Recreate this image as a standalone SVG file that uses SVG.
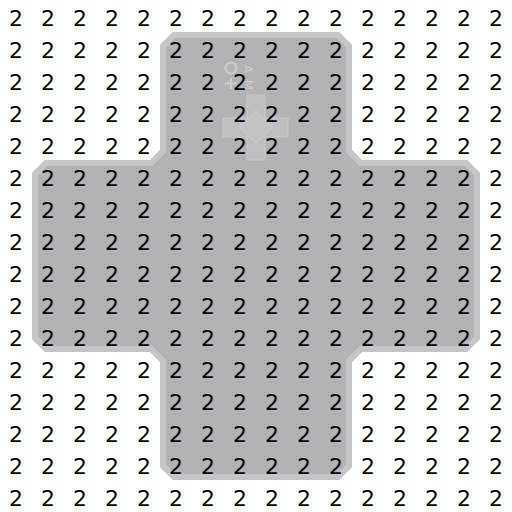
<svg xmlns="http://www.w3.org/2000/svg" width="512" height="512" viewBox="0 0 512 512">
<style>
.g{font-family:"DejaVu Sans",sans-serif;font-size:22px;fill:#000;text-anchor:middle}
.faint{fill:none;stroke:#cccccc;stroke-width:2}
.ft{font-family:"DejaVu Sans",sans-serif;font-size:12px;fill:#cccccc;text-anchor:middle}
</style>
<rect width="512" height="512" fill="#ffffff"/>
<g id="cross">
<path d="M174,35 H338 L349,46 V151 L361,163 H466 L477,174 V338 L466,349 H361 L349,361 V466 L338,477 H174 L163,466 V361 L151,349 H46 L35,338 V174 L46,163 H151 L163,151 V46 Z" fill="#b3b3b3" stroke="#c6c6c6" stroke-width="6" stroke-linejoin="miter"/>
</g>
<g id="icon">
<rect x="223" y="118" width="65" height="19" fill="#bfbfbf" stroke="#c8c8c8" stroke-width="1"/>
<rect x="247" y="95" width="18" height="65" fill="#bfbfbf" stroke="#c8c8c8" stroke-width="1"/>
<path d="M256,111 L272,127 L256,143 L240,127 Z" fill="#c3c3c3" stroke="#c9c9c9" stroke-width="1.5" stroke-linejoin="round"/>
<circle cx="231" cy="68" r="5.5" class="faint"/>
<path d="M231,78 V89 M225,83.5 H237" class="faint"/>
<text class="ft" transform="translate(244,69) rotate(90)">A</text>
<text class="ft" transform="translate(244,85) rotate(90)">M</text>
</g>
<g id="grid">
<text class="g" x="16 48 80 112 144 176 208 240 272 304 336 368 400 432 464 496" y="26">2222222222222222</text>
<text class="g" x="16 48 80 112 144 176 208 240 272 304 336 368 400 432 464 496" y="58">2222222222222222</text>
<text class="g" x="16 48 80 112 144 176 208 240 272 304 336 368 400 432 464 496" y="90">2222222222222222</text>
<text class="g" x="16 48 80 112 144 176 208 240 272 304 336 368 400 432 464 496" y="122">2222222222222222</text>
<text class="g" x="16 48 80 112 144 176 208 240 272 304 336 368 400 432 464 496" y="154">2222222222222222</text>
<text class="g" x="16 48 80 112 144 176 208 240 272 304 336 368 400 432 464 496" y="186">2222222222222222</text>
<text class="g" x="16 48 80 112 144 176 208 240 272 304 336 368 400 432 464 496" y="218">2222222222222222</text>
<text class="g" x="16 48 80 112 144 176 208 240 272 304 336 368 400 432 464 496" y="250">2222222222222222</text>
<text class="g" x="16 48 80 112 144 176 208 240 272 304 336 368 400 432 464 496" y="282">2222222222222222</text>
<text class="g" x="16 48 80 112 144 176 208 240 272 304 336 368 400 432 464 496" y="314">2222222222222222</text>
<text class="g" x="16 48 80 112 144 176 208 240 272 304 336 368 400 432 464 496" y="346">2222222222222222</text>
<text class="g" x="16 48 80 112 144 176 208 240 272 304 336 368 400 432 464 496" y="378">2222222222222222</text>
<text class="g" x="16 48 80 112 144 176 208 240 272 304 336 368 400 432 464 496" y="410">2222222222222222</text>
<text class="g" x="16 48 80 112 144 176 208 240 272 304 336 368 400 432 464 496" y="442">2222222222222222</text>
<text class="g" x="16 48 80 112 144 176 208 240 272 304 336 368 400 432 464 496" y="474">2222222222222222</text>
<text class="g" x="16 48 80 112 144 176 208 240 272 304 336 368 400 432 464 496" y="506">2222222222222222</text>
</g>
</svg>
